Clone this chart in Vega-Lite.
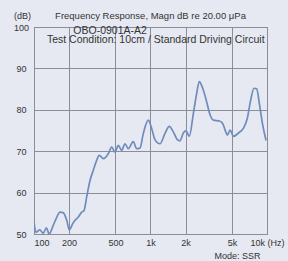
{
  "$schema": "https://vega.github.io/schema/vega-lite/v6.json",
  "width": 233,
  "height": 207,
  "autosize": "none",
  "padding": {"left": 34, "top": 27, "right": 21, "bottom": 27},
  "background": "#e6e9f1",
  "config": {
    "view": {"stroke": "#6b6f78", "strokeWidth": 1, "fill": "#e6e9f1"},
    "font": "Liberation Sans"
  },
  "title": {
    "text": "Frequency Response, Magn dB re 20.00 μPa",
    "fontSize": 9.5,
    "fontWeight": "normal",
    "color": "#333333",
    "anchor": "middle",
    "frame": "group",
    "offset": -9
  },
  "data": {
    "values": [
      {"freq": 100, "db": 53},
      {"freq": 104, "db": 50.4},
      {"freq": 112, "db": 51},
      {"freq": 120, "db": 50.2},
      {"freq": 128, "db": 51.5},
      {"freq": 135, "db": 50},
      {"freq": 146, "db": 52},
      {"freq": 157, "db": 54.1},
      {"freq": 167, "db": 55.3},
      {"freq": 179, "db": 55.1},
      {"freq": 191, "db": 53.3},
      {"freq": 201, "db": 51},
      {"freq": 215, "db": 52.5},
      {"freq": 225, "db": 53.3},
      {"freq": 240, "db": 54.1},
      {"freq": 257, "db": 55.3},
      {"freq": 269, "db": 55.7},
      {"freq": 283, "db": 58.9},
      {"freq": 303, "db": 63},
      {"freq": 323, "db": 65.4},
      {"freq": 345, "db": 67.8},
      {"freq": 363, "db": 69},
      {"freq": 395, "db": 68.2},
      {"freq": 434, "db": 69.4},
      {"freq": 465, "db": 71},
      {"freq": 495, "db": 69.8},
      {"freq": 529, "db": 71.4},
      {"freq": 566, "db": 70.2},
      {"freq": 604, "db": 71.8},
      {"freq": 645, "db": 70.6},
      {"freq": 711, "db": 72.3},
      {"freq": 761, "db": 70.6},
      {"freq": 813, "db": 70.8},
      {"freq": 868, "db": 74.3},
      {"freq": 957, "db": 77.5},
      {"freq": 1023, "db": 75.5},
      {"freq": 1092, "db": 72.8},
      {"freq": 1206, "db": 71.8},
      {"freq": 1331, "db": 74.3},
      {"freq": 1450, "db": 76},
      {"freq": 1573, "db": 74.6},
      {"freq": 1700, "db": 72.8},
      {"freq": 1789, "db": 72.5},
      {"freq": 1913, "db": 74.4},
      {"freq": 2017, "db": 74.9},
      {"freq": 2153, "db": 73.6},
      {"freq": 2333, "db": 79.1},
      {"freq": 2489, "db": 83.9},
      {"freq": 2623, "db": 86.8},
      {"freq": 2805, "db": 85.2},
      {"freq": 2998, "db": 82.5},
      {"freq": 3244, "db": 78.8},
      {"freq": 3466, "db": 77.5},
      {"freq": 3899, "db": 77.3},
      {"freq": 4167, "db": 76.7},
      {"freq": 4369, "db": 75.1},
      {"freq": 4574, "db": 73.9},
      {"freq": 4823, "db": 75.1},
      {"freq": 5153, "db": 73.6},
      {"freq": 5696, "db": 74.4},
      {"freq": 6263, "db": 75.5},
      {"freq": 6770, "db": 77.9},
      {"freq": 7240, "db": 82.3},
      {"freq": 7740, "db": 85.2},
      {"freq": 8170, "db": 85},
      {"freq": 8600, "db": 81.5},
      {"freq": 9190, "db": 76.3},
      {"freq": 9820, "db": 72.6}
    ]
  },
  "layer": [
    {
      "mark": {"type": "line", "color": "#6f8cbd", "strokeWidth": 1.7, "interpolate": "monotone", "clip": true},
      "encoding": {
        "x": {
          "field": "freq",
          "type": "quantitative",
          "scale": {"type": "log", "domain": [100, 10000], "nice": false},
          "axis": {
            "values": [100, 200, 500, 1000, 2000, 5000, 10000],
            "labelExpr": "datum.value == 100 ? '100' : datum.value == 200 ? '200' : datum.value == 500 ? '500' : datum.value == 1000 ? '1k' : datum.value == 2000 ? '2k' : datum.value == 5000 ? '5k' : '10k (Hz)'",
            "grid": true,
            "gridColor": "#8a8e98",
            "gridOpacity": 1,
            "tickSize": 0,
            "domain": false,
            "labelPadding": 4,
            "labelFontSize": 9,
            "labelColor": "#333333",
            "labelAlign": {"condition": {"test": "datum.value == 100", "value": "left"}, "value": "center"},
            "labelFlush": false,
            "labelOverlap": false,
            "labelBound": false,
            "title": "Mode: SSR",
            "titleX": 203,
            "titleY": 21,
            "titleAlign": "center",
            "titleBaseline": "middle",
            "titleFontSize": 9,
            "titleFontWeight": "normal",
            "titleColor": "#333333"
          }
        },
        "y": {
          "field": "db",
          "type": "quantitative",
          "scale": {"domain": [50, 100], "nice": false, "zero": false},
          "axis": {
            "values": [50, 60, 70, 80, 90, 100],
            "grid": true,
            "gridColor": "#8a8e98",
            "gridOpacity": 1,
            "tickSize": 0,
            "domain": false,
            "labelAlign": "center",
            "labelPadding": 13,
            "labelFontSize": 9,
            "labelColor": "#333333",
            "labelBound": false,
            "title": "(dB)",
            "titleAngle": 0,
            "titleX": -12,
            "titleY": -12,
            "titleAlign": "center",
            "titleBaseline": "middle",
            "titleFontSize": 9,
            "titleFontWeight": "normal",
            "titleColor": "#333333"
          }
        }
      }
    },
    {
      "data": {"values": [{"label": "OBO-0901A-A2"}]},
      "mark": {"type": "text", "fontSize": 10.5, "color": "#333333", "align": "center", "baseline": "middle"},
      "encoding": {
        "x": {"datum": 450, "type": "quantitative"},
        "y": {"datum": 99.1, "type": "quantitative"},
        "text": {"field": "label"}
      }
    },
    {
      "data": {"values": [{"label": "Test Condition: 10cm / Standard Driving Circuit"}]},
      "mark": {"type": "text", "fontSize": 10.5, "color": "#333333", "align": "center", "baseline": "middle"},
      "encoding": {
        "x": {"datum": 1110, "type": "quantitative"},
        "y": {"datum": 96.9, "type": "quantitative"},
        "text": {"field": "label"}
      }
    }
  ]
}
